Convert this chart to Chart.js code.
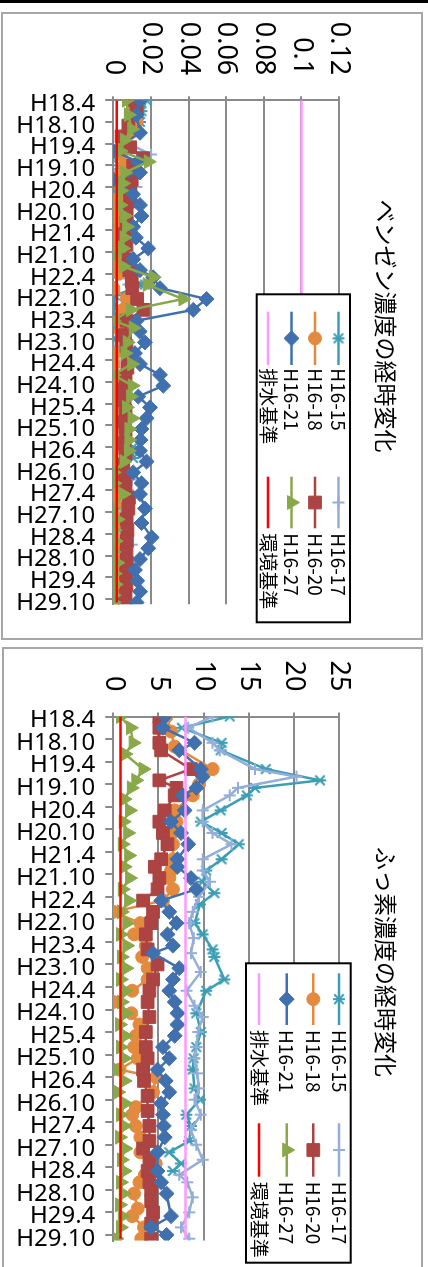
<!DOCTYPE html>
<html>
<head>
<meta charset="utf-8">
<script src="https://cdn.jsdelivr.net/npm/chart.js@4.4.1/dist/chart.umd.min.js"></script>
<style>
  html, body { margin: 0; padding: 0; background: #fff; }
  body { width: 428px; height: 1267px; position: relative; overflow: hidden; }
  .bar { position: absolute; left: 0; top: 0; width: 428px; height: 3px; background: #000; }
  .panel { position: absolute; box-sizing: border-box; border: 2px solid #a6a6a6; background: #fff; }
  .rot { position: absolute; left: 0; top: 0; width: 624px; height: 418px; transform-origin: 0 0; }
</style>
</head>
<body>
<div class="bar"></div>
<div class="panel" style="left:1px;top:12px;width:422px;height:628px"></div>
<div class="panel" style="left:2px;top:647px;width:421px;height:640px"></div>
<div class="rot" style="transform:translate(421px,14px) rotate(90deg)"><canvas id="benzene" width="624" height="418"></canvas></div>
<div class="rot" style="transform:translate(421px,650px) rotate(90deg)"><canvas id="fluorine" width="624" height="418"></canvas></div>
<script>
// category axis: one label every 6 months, months counted from H18.4
const tickLabels = ['H18.4','H18.10','H19.4','H19.10','H20.4','H20.10','H21.4','H21.10',
  'H22.4','H22.10','H23.4','H23.10','H24.4','H24.10','H25.4','H25.10',
  'H26.4','H26.10','H27.4','H27.10','H28.4','H28.10','H29.4','H29.10'];
const seriesNames = ['H16-15','H16-17','H16-18','H16-20','H16-21','H16-27','排水基準','環境基準'];

// ---- benzene (mg/L)
const bzTicks = [0, 0.02, 0.04, 0.06, 0.08, 0.1, 0.12];
const bzMonths15 = [0,3,6,9,12,15,18,21,24,27,30,33,36,39,42,45,48,51,54,57,60,63,66,69,72,75,78,81,84,87,90,93,96,99,102,105,108,111,114,117,120,123,126,129,132,135,138];
const bz15 = [0.0177,0.0150,0.0142,0.0115,0.0060,0.0000,0.0030,0.0010,0.0000,0.0015,0.0010,0.0000,0.0005,0.0020,0.0000,0.0005,0.0000,0.0168,0.0010,0.0000,0.0010,0.0020,0.0015,0.0010,0.0005,0.0010,0.0025,0.0010,0.0005,0.0010,0.0020,0.0005,0.0106,0.0106,0.0040,0.0010,0.0005,0.0010,0.0005,0.0010,0.0005,0.0010,0.0005,0.0005,0.0010,0.0005,0.0005];
const bzMonths17 = [0,3,6,9,12,15,18,21,24,27,30,33,36,39,42,45,48,51,54,57,60,63,66,69,72,75,78,81,84,87,90,93,96,99,102,105,108,111,114,117,120,123,126,129,132,135,138];
const bz17 = [0.0150,0.0120,0.0100,0.0090,0.0080,0.0200,0.0110,0.0100,0.0124,0.0080,0.0060,0.0050,0.0060,0.0050,0.0060,0.0070,0.0060,0.0080,0.0090,0.0080,0.0050,0.0060,0.0050,0.0040,0.0050,0.0060,0.0050,0.0040,0.0050,0.0040,0.0050,0.0040,0.0050,0.0040,0.0050,0.0098,0.0080,0.0050,0.0040,0.0050,0.0040,0.0098,0.0050,0.0040,0.0050,0.0040,0.0050];
const bzMonths18 = [0,3,6,9,12,15,18,21,24,27,30,33,36,39,42,45,48,52,55,58,61,64,67,70,73,76,79,82,85,88,91,94,97,100,103,106,109,112,115,118,121,124,127,130,133,136,139];
const bz18 = [0.0090,0.0100,0.0124,0.0080,0.0050,0.0040,0.0060,0.0030,0.0040,0.0030,0.0020,0.0030,0.0020,0.0030,0.0020,0.0020,0.0030,0.0000,0.0072,0.0050,0.0030,0.0040,0.0062,0.0010,0.0000,0.0010,0.0000,0.0000,0.0010,0.0000,0.0005,0.0000,0.0000,0.0000,0.0010,0.0000,0.0005,0.0010,0.0000,0.0005,0.0000,0.0010,0.0000,0.0005,0.0010,0.0000,0.0000];
const bzMonths20 = [0,3,7,10,13,16,18,22,25,28,31,34,37,40,44,47,50,52,55,58,61,65,68,71,74,77,80,83,86,89,92,95,98,101,104,107,110,113,116,119,122,125,128,131,134,137,139];
const bz20 = [0.0115,0.0124,0.0080,0.0044,0.0090,0.0159,0.0106,0.0098,0.0089,0.0089,0.0071,0.0070,0.0062,0.0070,0.0080,0.0085,0.0098,0.0101,0.0127,0.0160,0.0070,0.0062,0.0070,0.0083,0.0075,0.0065,0.0057,0.0060,0.0065,0.0062,0.0065,0.0060,0.0065,0.0053,0.0060,0.0065,0.0083,0.0080,0.0071,0.0075,0.0072,0.0070,0.0072,0.0068,0.0070,0.0065,0.0062];
const bzMonths21 = [0,4,9,14,17,20,22,26,29,32,35,38,41,44,47,49,52,55,58,61,64,67,70,73,76,79,82,85,88,91,94,97,100,103,106,109,113,117,121,124,127,130,133,136,139];
const bz21 = [0.0142,0.0124,0.0142,0.0000,0.0130,0.0142,0.0000,0.0105,0.0142,0.0150,0.0106,0.0120,0.0186,0.0106,0.0142,0.0212,0.0248,0.0496,0.0425,0.0124,0.0140,0.0168,0.0115,0.0142,0.0248,0.0266,0.0133,0.0195,0.0177,0.0150,0.0145,0.0142,0.0177,0.0106,0.0150,0.0142,0.0168,0.0150,0.0204,0.0186,0.0142,0.0115,0.0127,0.0142,0.0124];
const bzMonths27 = [0,4,8,11,14,17,20,23,25,29,32,35,38,41,43,46,49,51,55,58,61,63,67,70,73,76,79,82,85,88,91,94,97,100,103,106,109,113,116,119,122,125,128,131,134,137,139];
const bz27 = [0.0070,0.0080,0.0098,0.0060,0.0036,0.0186,0.0062,0.0050,0.0040,0.0036,0.0060,0.0071,0.0057,0.0050,0.0004,0.0053,0.0212,0.0180,0.0370,0.0092,0.0000,0.0106,0.0074,0.0062,0.0098,0.0000,0.0101,0.0092,0.0070,0.0100,0.0083,0.0083,0.0080,0.0057,0.0000,0.0004,0.0053,0.0000,0.0020,0.0005,0.0010,0.0000,0.0020,0.0005,0.0010,0.0000,0.0000];
const bzEffluent = 0.1;
const bzEnvironment = 0.0018;

// ---- fluorine (mg/L)
const fTicks = [0, 5, 10, 15, 20, 25];
const fMonths15 = [0,3,7,9,14,17,19,21,25,28,31,34,38,41,44,47,50,55,58,62,64,70,73,79,84,88,91,94,99,102,106,109,113,116,119,121];
const f15 = [12.9,7.6,12.0,11.9,16.9,22.9,15.7,14.8,11.9,9.7,12.0,13.9,12.0,10.3,9.9,11.2,9.6,9.0,9.9,11.0,11.2,12.3,10.3,9.2,9.7,9.2,8.9,8.8,9.0,9.6,8.1,8.6,8.4,6.2,7.5,6.6];
const fMonths17 = [0,3,7,9,14,16,19,21,25,28,31,34,38,41,44,48,52,55,59,63,68,73,77,80,84,88,91,95,99,102,106,110,114,118,122,124,128,132,136,139];
const f17 = [11.0,8.3,11.0,11.8,15.7,20.3,13.8,12.9,9.9,9.9,11.0,13.1,9.9,9.9,10.7,9.5,8.8,8.4,8.9,8.6,9.7,8.1,9.0,9.9,9.4,9.2,9.0,9.3,9.5,9.0,9.7,8.6,9.2,9.9,7.3,8.2,8.8,8.4,7.5,8.4];
const fMonths18 = [0,4,8,14,18,21,25,28,31,34,38,41,43,46,49,52,55,58,61,64,67,70,73,76,79,82,85,88,91,94,96,100,104,106,109,112,116,119,122,124,127,131,133,136,139];
const f18 = [5.9,6.4,6.8,11.0,9.5,8.8,6.8,7.0,6.5,6.6,6.6,6.4,6.2,6.6,5.5,0.0,3.0,2.3,3.6,3.2,3.8,3.8,2.1,0.0,2.0,2.9,2.5,2.3,2.7,0.7,4.7,4.4,2.5,2.1,2.5,3.0,3.0,4.7,3.5,2.9,2.3,2.7,2.1,3.4,3.1];
const fMonths20 = [0,3,7,9,14,17,19,21,25,28,31,34,38,40,43,46,49,52,55,58,62,66,70,73,76,80,84,88,91,94,97,101,105,109,113,115,118,121,124,126,129,132,135,139];
const f20 = [5.1,5.1,5.1,5.3,8.6,5.1,7.0,6.8,5.7,5.1,5.5,6.0,5.3,4.6,5.1,4.9,3.3,4.4,4.2,3.6,3.8,4.9,4.4,4.0,3.8,4.0,3.6,3.6,3.8,3.3,3.4,3.8,3.8,4.0,4.0,3.3,4.0,3.8,4.0,4.2,4.2,4.4,4.2,4.2];
const fMonths21 = [0,3,7,9,14,16,19,21,25,28,31,34,38,40,43,46,49,52,55,58,61,63,67,70,73,76,79,82,85,88,91,94,97,100,103,106,109,112,116,121,124,127,133,136,138];
const f21 = [5.7,5.5,9.0,7.3,9.7,9.9,9.2,7.7,7.9,6.4,7.5,8.3,7.1,7.1,8.6,9.2,5.3,6.2,7.0,6.0,6.6,4.4,7.3,6.6,6.2,6.8,7.1,7.1,6.8,5.5,6.2,4.9,5.8,6.2,5.3,5.5,5.6,5.7,4.9,4.9,5.3,5.9,6.4,4.2,5.9];
const fMonths27 = [0,3,7,10,14,17,19,22,25,28,31,34,37,40,43,46,49,52,55,58,61,64,67,70,73,76,79,82,85,88,91,94,97,100,103,106,109,112,115,118,121,124,127,130,133,136,139];
const f27 = [0.8,1.9,2.2,1.3,3.3,2.5,2.0,1.2,1.8,1.1,1.6,1.0,1.7,1.2,1.8,1.0,1.7,0.9,1.5,0.8,1.5,0.9,1.4,0.8,1.3,0.9,1.4,0.7,1.3,0.8,1.2,0.4,1.2,0.5,1.3,0.8,1.2,0.7,1.3,0.9,1.2,0.8,1.1,0.7,1.0,0.8,0.3];
const fEffluent = 8;
const fEnvironment = 0.8;

const standardMonths = [0, 139];

const colors = ['#3c9eb5', '#93aed8', '#e48a3e', '#ab4442', '#4170ae', '#88a84a', '#ff99ff', '#ff0000'];

function asterisk(color, r) {
  const c = document.createElement('canvas');
  c.width = c.height = 2 * r + 4;
  const g = c.getContext('2d');
  const m = r + 2;
  g.strokeStyle = color;
  g.lineWidth = 2;
  g.beginPath();
  g.moveTo(m - r * 0.8, m - r * 0.8); g.lineTo(m + r * 0.8, m + r * 0.8);
  g.moveTo(m + r * 0.8, m - r * 0.8); g.lineTo(m - r * 0.8, m + r * 0.8);
  g.moveTo(m, m - r); g.lineTo(m, m + r);
  g.stroke();
  return c;
}

function pts(months, values) {
  return months.map((m, i) => ({ x: m, y: values[i] }));
}

const markers = [
  { style: asterisk(colors[0], 6), r: 6 },
  { style: 'cross', r: 6 },
  { style: 'circle', r: 6.5 },
  { style: 'rect', r: 9 },
  { style: 'rectRot', r: 7.5 },
  { style: 'triangle', r: 8 },
  { style: false, r: 0 },
  { style: false, r: 0 }
];

function buildDatasets(list) {
  return list.map((d, i) => ({
    label: seriesNames[i],
    data: d,
    borderColor: colors[i],
    backgroundColor: colors[i],
    borderWidth: 2.5,
    pointStyle: markers[i].style,
    pointRadius: markers[i].r,
    pointHoverRadius: markers[i].r,
    pointBorderWidth: i < 2 ? 2 : 1,
    pointBackgroundColor: colors[i],
    pointBorderColor: colors[i],
    tension: 0,
    order: 8 - i
  }));
}

// title (centred on the whole panel) and the boxed legend that sits over the plot
function titleAndLegend(title, L) {
  return {
    id: 'titleAndLegend',
    afterDraw(chart) {
      const ctx = chart.ctx;
      ctx.save();
      ctx.fillStyle = '#000';
      ctx.font = '23px "Noto Sans CJK JP"';
      ctx.textAlign = 'center';
      ctx.textBaseline = 'middle';
      ctx.fillText(title, chart.width / 2, 34.8);

      ctx.fillStyle = '#fff';
      ctx.fillRect(L.box[0], L.box[1], L.box[2], L.box[3]);
      ctx.strokeStyle = '#000';
      ctx.lineWidth = 2;
      ctx.strokeRect(L.box[0], L.box[1], L.box[2], L.box[3]);
      chart.data.datasets.forEach((ds, i) => {
        const y = L.rows[Math.floor(i / 2)];
        const c = L.cols[i % 2];
        ctx.strokeStyle = ds.borderColor;
        ctx.lineWidth = ds.borderWidth;
        ctx.beginPath();
        ctx.moveTo(c[0], y);
        ctx.lineTo(c[1], y);
        ctx.stroke();
        if (ds.pointRadius > 0) {
          ctx.fillStyle = ds.pointBackgroundColor;
          ctx.strokeStyle = ds.pointBorderColor;
          ctx.lineWidth = ds.pointBorderWidth;
          Chart.helpers.drawPoint(ctx, { pointStyle: ds.pointStyle, radius: ds.pointRadius, rotation: 0, borderWidth: ds.pointBorderWidth }, (c[0] + c[1]) / 2, y);
        }
        ctx.fillStyle = '#000';
        ctx.font = '19px "Noto Sans CJK JP"';
        ctx.textBaseline = 'middle';
        ctx.textAlign = 'left';
        ctx.fillText(ds.label, c[2], y);
      });
      ctx.restore();
    }
  };
}

function makeChart(id, cfg) {
  const grey = '#8a8a8a';
  return new Chart(document.getElementById(id), {
    type: 'line',
    data: { datasets: buildDatasets(cfg.series) },
    plugins: [titleAndLegend(cfg.title, cfg.legend)],
    options: {
      responsive: false,
      animation: false,
      devicePixelRatio: 1,
      layout: { padding: { left: 0, right: cfg.padRight, top: 82, bottom: 0 } },
      scales: {
        x: {
          type: 'linear',
          min: 0,
          max: 139.5,
          afterBuildTicks: (s) => { s.ticks = tickLabels.map((_, i) => ({ value: i * 6 })); },
          afterFit: (s) => { s.height = 110.3; },
          ticks: {
            autoSkip: false,
            minRotation: 90,
            maxRotation: 90,
            padding: 10,
            labelOffset: 4,
            color: '#000',
            font: { family: 'Noto Sans', size: 24 },
            callback: (v) => tickLabels[Math.round(v / 6)]
          },
          grid: { drawOnChartArea: false, drawTicks: true, tickLength: 8, color: grey, lineWidth: 2 },
          border: { display: true, color: grey, width: 2 }
        },
        y: {
          min: 0,
          max: cfg.ticks[cfg.ticks.length - 1],
          afterBuildTicks: (s) => { s.ticks = cfg.ticks.map((v) => ({ value: v })); },
          afterFit: (s) => { s.width = cfg.yWidth; },
          ticks: {
            padding: 21,
            color: '#000',
            font: { family: 'Noto Sans', size: 27 },
            callback: (v) => String(v)
          },
          grid: { color: grey, lineWidth: 2, tickLength: 4 },
          border: { display: true, color: grey, width: 2 }
        }
      },
      plugins: {
        legend: { display: false },
        tooltip: { enabled: false },
        title: { display: false }
      }
    }
  });
}

makeChart('benzene', {
  title: 'ベンゼン濃度の経時変化',
  ticks: bzTicks,
  yWidth: 86.3,
  padRight: 29.7,
  series: [
    pts(bzMonths15, bz15), pts(bzMonths17, bz17), pts(bzMonths18, bz18),
    pts(bzMonths20, bz20), pts(bzMonths21, bz21), pts(bzMonths27, bz27),
    pts(standardMonths, [bzEffluent, bzEffluent]),
    pts(standardMonths, [bzEnvironment, bzEnvironment])
  ],
  legend: {
    box: [280.3, 71, 328, 93.3],
    rows: [82.5, 106, 129.5, 153],
    cols: [[297.7, 351, 354.3], [462.7, 514.3, 519.3]]
  }
});

makeChart('fluorine', {
  title: 'ふっ素濃度の経時変化',
  ticks: fTicks,
  yWidth: 66.5,
  padRight: 25.7,
  series: [
    pts(fMonths15, f15), pts(fMonths17, f17), pts(fMonths18, f18),
    pts(fMonths20, f20), pts(fMonths21, f21), pts(fMonths27, f27),
    pts(standardMonths, [fEffluent, fEffluent]),
    pts(standardMonths, [fEnvironment, fEnvironment])
  ],
  legend: {
    box: [313.3, 70.3, 299.4, 104.7],
    rows: [82, 107.7, 134.3, 162],
    cols: [[323.3, 375, 380], [473.3, 526.7, 531.7]]
  }
});
</script>
</body>
</html>
